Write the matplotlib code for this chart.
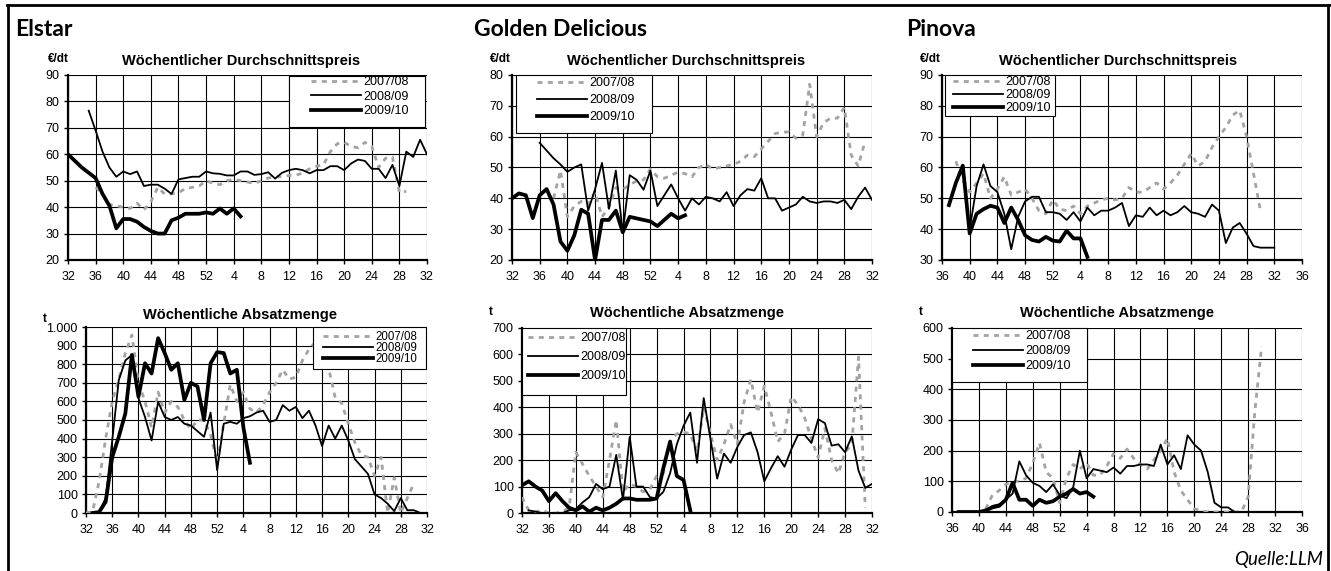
import numpy as np
import matplotlib.pyplot as plt
from matplotlib.patches import Rectangle
from matplotlib.lines import Line2D

plt.rcParams['font.family'] = ['Liberation Sans', 'DejaVu Sans']

W, H = 1331, 571

# x axis: marketing year in calendar weeks
weeks_from32 = list(range(32, 53)) + list(range(1, 33))
weeks_from36 = list(range(36, 53)) + list(range(1, 37))
seasons = ['2007/08', '2008/09', '2009/10']

# ---- Elstar, price (EUR/dt), each series = first week + weekly values
elstar_price_0708_start = 36
elstar_price_0708 = [47.5, 45, 41, 40.5, 40, 39.5, 41.5, 39, 42, 47.5, 45, 45, 45.5, 47, 47.5, 48, 50,
                     49, 48.5, 50, 50.5, 50, 49.5, 49, 50, 51, 51.5, 51.5, 52, 52, 53, 54.5, 55.5, 56,
                     61, 64, 64.5, 63, 62.5, 64.5, 63, 55, 58.5, 59, 45.5, 46]
elstar_price_0809_start = 35
elstar_price_0809 = [76.5, 69, 61, 55, 51.5, 53.5, 52.5, 53.5, 48, 48.5, 48.5, 47, 45, 50.5, 51, 51.5,
                     51.5, 53.5,
                     52.8, 52.6, 52, 52, 53.5, 53.5, 52.2, 52.5, 53.2, 50.8, 53, 54, 54.5, 54, 52.8, 54,
                     54, 55.5, 55.5, 54, 56.5, 58, 57.5, 54.5, 54.5, 51, 56, 48, 61, 59, 65.5, 60]
elstar_price_0910_start = 32
elstar_price_0910 = [60, 57.5, 55, 53, 51, 45, 40.5, 32, 35.5, 35.5, 34.5, 32.5, 31, 30, 30, 35, 36,
                     37.5, 37.5, 37.5, 38,
                     37.5, 39.5, 37.5, 39.5, 36.5]

# ---- Golden Delicious, price (EUR/dt)
golden_price_0708_start = 38
golden_price_0708 = [40, 49, 34, 37.5, 39, 38, 42, 34, 37, 43.5, 42.8, 44.5, 45.6, 46, 49.5,
                     47, 46.5, 47.5, 48.5, 48, 47, 50, 51, 49.5, 50, 50.5, 51, 52, 54, 53.5, 56, 58.5,
                     61, 61.5, 61.5, 59.5, 60.5, 77, 60, 64.5, 66, 66, 69.5, 54, 50.5, 58.5]
golden_price_0809_start = 36
golden_price_0809 = [58, 55.5, 53, 51, 48.6, 50, 51, 36, 43, 51.5, 36.6, 49, 29, 47.5, 46, 42.8, 49,
                     37.5, 41, 44.5, 40, 36, 40, 38, 40.5, 40, 39, 42, 37.5, 41, 43, 42.5, 46.5, 40,
                     40, 36, 37, 38, 40.5, 39, 38.5, 39, 39, 38.5, 39.5, 36.5, 40.5, 43.5, 39.5]
golden_price_0910_start = 32
golden_price_0910 = [40, 41.6, 41, 33.6, 41, 43, 38, 26, 23, 28, 36.3, 35, 20, 33, 33, 36, 29, 34,
                     33.5, 33, 32.5,
                     31, 33, 35, 33.5, 34.5]

# ---- Pinova, price (EUR/dt)
pinova_price_0708_start = 38
pinova_price_0708 = [62, 56, 52, 55, 58, 50, 53, 57, 51, 52, 53, 50, 46, 45, 49.5,
                     46.5, 46, 47.5, 45, 47.5, 48.5, 49.5, 50, 49.5, 50, 53.5, 52, 52, 53.5, 55, 53,
                     55, 57.5, 61, 64.5, 60.5, 62, 66.5, 70, 73, 77, 78.5, 70, 58, 46]
pinova_price_0809_start = 40
pinova_price_0809 = [40, 54, 61, 54, 52, 45, 33.5, 44, 49, 50.5, 50.5, 45.5, 45.5,
                     45, 43, 45.5, 42.5, 47, 44.5, 46, 46, 47, 48.5, 41, 44.5, 44, 47, 44.5, 46, 44.5,
                     45.5, 47.5, 45.5, 45, 44, 48, 46, 35.5, 40.5, 42, 38.5, 34.5, 34, 34, 34]
pinova_price_0910_start = 37
pinova_price_0910 = [47.8, 55, 60.6, 38.6, 45, 46.5, 47.6, 47, 42, 47, 43, 38, 36.5, 36, 37.5, 36.3,
                     36, 39.5, 37, 37, 31]

# ---- Elstar, sales volume (t)
elstar_qty_0708_start = 32
elstar_qty_0708 = [0, 7, 170, 400, 600, 720, 860, 957, 700, 600, 460, 650, 540, 600, 570, 500, 450,
                   500, 500, 420, 270,
                   480, 690, 600, 650, 560, 540, 580, 650, 700, 770, 720, 730, 820, 880, 920, 950,
                   780, 620, 590, 480, 380, 310, 300, 200, 300, 0, 190, 0, 80, 160]
elstar_qty_0809_start = 33
elstar_qty_0809 = [0, 5, 80, 390, 715, 820, 850, 617, 516, 390, 598, 516, 500, 516, 480, 470, 440,
                   410, 540, 230,
                   480, 490, 480, 510, 520, 540, 550, 490, 500, 580, 550, 570, 510, 550, 470, 360,
                   470, 400, 470, 390, 290, 250, 210, 100, 80, 50, 10, 80, 15, 15, 0, 0]
elstar_qty_0910_start = 33
elstar_qty_0910 = [0, 5, 60, 300, 410, 535, 850, 625, 805, 750, 940, 860, 770, 805, 608, 700, 680,
                   500, 805, 865,
                   860, 750, 770, 460, 270]

# ---- Golden Delicious, sales volume (t)
golden_qty_0708_start = 32
golden_qty_0708 = [60, 10, 5, 10, 0, 0, 5, 20, 230, 185, 140, 100, 60, 200, 352, 80, 110, 100, 80,
                   90, 140,
                   150, 270, 300, 306, 300, 230, 400, 300, 200, 260, 335, 260, 420, 505, 380, 480,
                   380, 270, 300, 440, 410, 360, 280, 210, 320, 200, 150, 230, 260, 590, 20]
golden_qty_0809_start = 33
golden_qty_0809 = [10, 5, 0, 0, 0, 0, 10, 15, 40, 60, 110, 90, 100, 220, 50, 288, 100, 100, 60, 55,
                   80, 150, 260, 330, 380, 190, 435, 280, 130, 225, 190, 250, 295, 305, 230, 120,
                   170, 215, 175, 240, 295, 295, 265, 355, 340, 255, 260, 230, 290, 160, 95, 110]
golden_qty_0910_start = 32
golden_qty_0910 = [105, 120, 100, 85, 45, 75, 45, 20, 10, 25, 5, 20, 10, 20, 35, 55, 55, 50, 50, 50,
                   55,
                   170, 270, 140, 125, 10]

# ---- Pinova, sales volume (t)
pinova_qty_0708_start = 41
pinova_qty_0708 = [10, 55, 70, 90, 100, 100, 110, 160, 225, 130, 110, 30,
                   110, 155, 140, 160, 120, 120, 150, 190, 175, 205, 175, 155, 140, 170, 200, 240,
                   130, 70, 40, 10, 5, 0, 0, 0, 0, 0, 0, 50, 330, 540]
pinova_qty_0809_start = 37
pinova_qty_0809 = [0, 0, 0, 0, 5, 20, 25, 40, 60, 165, 120, 95, 85, 65, 90, 55,
                   45, 80, 200, 110, 140, 135, 130, 145, 125, 150, 150, 155, 155, 150, 220, 155,
                   185, 140, 250, 220, 200, 130, 30, 15, 15, 0, 0]
pinova_qty_0910_start = 37
pinova_qty_0910 = [0, 0, 0, 0, 5, 15, 20, 40, 95, 40, 40, 20, 40, 30, 35, 50,
                   60, 75, 60, 65, 50]

styles = {
    '2007/08': dict(color='#a3a3a3', lw=2.0, ls=(0, (1.8, 1.9)), dash_capstyle='butt'),
    '2008/09': dict(color='black', lw=1.3),
    '2009/10': dict(color='black', lw=2.7),
}

panels = [
    # axes box px (l, t, r, b), legend box px, legend handle start x, first row y, row pitch
    dict(box=(68, 75, 427, 260), weeks=weeks_from32, ylim=(20, 90), step=10,
         series=[(elstar_price_0708_start, elstar_price_0708), (elstar_price_0809_start, elstar_price_0809),
                 (elstar_price_0910_start, elstar_price_0910)],
         leg=(289, 76, 425, 127), leg_x=311, leg_y=83, pitch=16.5, leg_fs=9),
    dict(box=(512, 75, 872, 260), weeks=weeks_from32, ylim=(20, 80), step=10,
         series=[(golden_price_0708_start, golden_price_0708), (golden_price_0809_start, golden_price_0809),
                 (golden_price_0910_start, golden_price_0910)],
         leg=(516, 75, 652, 133), leg_x=537, leg_y=84, pitch=19, leg_fs=9),
    dict(box=(942, 75, 1302, 260), weeks=weeks_from36, ylim=(30, 90), step=10,
         series=[(pinova_price_0708_start, pinova_price_0708), (pinova_price_0809_start, pinova_price_0809),
                 (pinova_price_0910_start, pinova_price_0910)],
         leg=(945, 75, 1055, 116), leg_x=953, leg_y=83, pitch=15, leg_fs=9),
    dict(box=(86, 327, 427, 513), weeks=weeks_from32, ylim=(0, 1000), step=100,
         series=[(elstar_qty_0708_start, elstar_qty_0708), (elstar_qty_0809_start, elstar_qty_0809),
                 (elstar_qty_0910_start, elstar_qty_0910)],
         leg=(313, 327, 426, 369), leg_x=323, leg_y=337, pitch=12.3, leg_fs=8.3),
    dict(box=(522, 328, 872, 513), weeks=weeks_from32, ylim=(0, 700), step=100,
         series=[(golden_qty_0708_start, golden_qty_0708), (golden_qty_0809_start, golden_qty_0809),
                 (golden_qty_0910_start, golden_qty_0910)],
         leg=(522, 328, 626, 395), leg_x=528, leg_y=339, pitch=21, leg_fs=9),
    dict(box=(952, 328, 1302, 512), weeks=weeks_from36, ylim=(0, 600), step=100,
         series=[(pinova_qty_0708_start, pinova_qty_0708), (pinova_qty_0809_start, pinova_qty_0809),
                 (pinova_qty_0910_start, pinova_qty_0910)],
         leg=(952, 328, 1087, 382), leg_x=973, leg_y=337, pitch=17, leg_fs=9),
]

fig = plt.figure(figsize=(W / 100, H / 100), dpi=100)
FS = 9

for p in panels:
    l, t, r, b = p['box']
    ax = fig.add_axes([l / W, 1 - b / H, (r - l) / W, (b - t) / H])
    weeks = p['weeks']
    lines = []
    for season, (start, vals) in zip(seasons, p['series']):
        x = weeks.index(start) + np.arange(len(vals))
        ln, = ax.plot(x, vals, solid_joinstyle='round', zorder=3, **styles[season])
        lines.append(ln)

    ax.set_xlim(0, len(weeks) - 1)
    ax.set_xticks(range(0, len(weeks), 4))
    ax.set_xticklabels([str(weeks[i]) for i in range(0, len(weeks), 4)])
    y0, y1 = p['ylim']
    yt = np.arange(y0, y1 + 1, p['step'])
    ax.set_ylim(y0, y1)
    ax.set_yticks(yt)
    ax.set_yticklabels([f'{v:,}'.replace(',', '.') for v in yt])
    ax.grid(True, color='black', lw=0.8)
    ax.set_axisbelow(True)
    for s in ('top', 'right'):
        ax.spines[s].set_visible(False)
    for s in ('left', 'bottom'):
        ax.spines[s].set_linewidth(1.6)
    ax.tick_params(axis='both', labelsize=FS, length=3, width=1, direction='out')
    ax.tick_params(axis='x', pad=5)
    ax.tick_params(axis='y', pad=3)

    # legend: white box over the lines, entries placed inside
    ll, lt, lr, lb = p['leg']
    ax.add_patch(Rectangle((ll / W, 1 - lb / H), (lr - ll) / W, (lb - lt) / H,
                           transform=fig.transFigure, facecolor='white', edgecolor='black',
                           lw=0.8, zorder=5, clip_on=False))
    fs_px = p['leg_fs'] * 100 / 72
    text_h = 1.12 * fs_px
    spacing = (p['pitch'] - text_h) / fs_px
    leg = ax.legend(lines, seasons, loc='upper left',
                    bbox_to_anchor=(p['leg_x'] / W, 1 - (p['leg_y'] - text_h / 2) / H),
                    bbox_transform=fig.transFigure, frameon=False, fontsize=p['leg_fs'],
                    handlelength=50 / fs_px, handletextpad=0.22, labelspacing=spacing,
                    borderpad=0, borderaxespad=0)
    leg.set_zorder(6)

# titles, units and variety names
title_kw = dict(ha='center', va='center', fontsize=10.5, fontweight='bold')
fig.text(241 / W, 1 - 61 / H, 'Wöchentlicher Durchschnittspreis', **title_kw)
fig.text(686 / W, 1 - 61 / H, 'Wöchentlicher Durchschnittspreis', **title_kw)
fig.text(1118 / W, 1 - 61 / H, 'Wöchentlicher Durchschnittspreis', **title_kw)
fig.text(240 / W, 1 - 315 / H, 'Wöchentliche Absatzmenge', **title_kw)
fig.text(687 / W, 1 - 313 / H, 'Wöchentliche Absatzmenge', **title_kw)
fig.text(1117 / W, 1 - 313 / H, 'Wöchentliche Absatzmenge', **title_kw)

unit_kw = dict(ha='center', va='center', fontsize=8.5, fontweight='bold')
fig.text(58 / W, 1 - 59 / H, '€/dt', **unit_kw)
fig.text(500 / W, 1 - 59 / H, '€/dt', **unit_kw)
fig.text(930 / W, 1 - 59 / H, '€/dt', **unit_kw)
fig.text(45 / W, 1 - 319 / H, 't', **unit_kw)
fig.text(491 / W, 1 - 312 / H, 't', **unit_kw)
fig.text(921 / W, 1 - 312 / H, 't', **unit_kw)

name_kw = dict(ha='left', va='center', fontsize=16.5, fontweight='bold', family='Lato')
fig.text(15 / W, 1 - 30 / H, 'Elstar', **name_kw)
fig.text(474 / W, 1 - 30 / H, 'Golden Delicious', **name_kw)
fig.text(906 / W, 1 - 30 / H, 'Pinova', **name_kw)

fig.text(1323 / W, 1 - 559 / H, 'Quelle:LLM', ha='right', va='center', fontsize=13.5,
         style='italic', family='Lato')

# frame around the figure block
frame_kw = dict(color='black', lw=2, transform=fig.transFigure)
fig.add_artist(Line2D([7 / W, 1], [1 - 5 / H, 1 - 5 / H], **frame_kw))
fig.add_artist(Line2D([8 / W, 8 / W], [1 - 5 / H, 0], **frame_kw))
fig.add_artist(Line2D([1328 / W, 1328 / W], [1 - 5 / H, 0], **frame_kw))

fig.savefig('out.png', dpi=100)
